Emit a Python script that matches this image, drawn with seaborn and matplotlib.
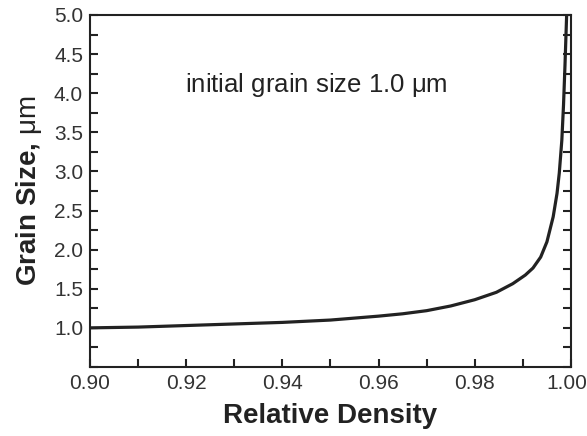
import numpy as np
import pandas as pd
import matplotlib
matplotlib.use("Agg")
import matplotlib.pyplot as plt
import matplotlib.transforms as mtransforms
import seaborn as sns
from matplotlib.ticker import MultipleLocator

# values
density = [0.900, 0.910, 0.920, 0.930, 0.940, 0.950, 0.960, 0.965, 0.970, 0.975,
           0.980, 0.9845, 0.9879, 0.9905, 0.9921, 0.9937, 0.9950, 0.9963,
           0.9971, 0.99757, 0.9981, 0.99845, 0.99875, 0.9991]
grain = [1.00, 1.01, 1.03, 1.05, 1.07, 1.10, 1.15, 1.18, 1.22, 1.28,
         1.36, 1.455, 1.565, 1.675, 1.765, 1.905, 2.10, 2.42,
         2.72, 2.98, 3.40, 3.85, 4.35, 5.00]

df = pd.DataFrame({"density": density, "grain": grain})

sns.set_theme(style="ticks")
plt.rcParams["font.family"] = ["Liberation Sans", "DejaVu Sans"]
plt.rcParams["mathtext.fontset"] = "custom"
plt.rcParams["mathtext.rm"] = "Liberation Sans"

ink = "#222222"
fig = plt.figure(figsize=(5.87, 4.36), dpi=100)
ax = fig.add_axes([0.1533, 0.1583, 0.8194, 0.8073])

sns.lineplot(data=df, x="density", y="grain", ax=ax, color=ink, linewidth=2.3)

ax.set_xlim(0.90, 1.00)
ax.set_ylim(0.5, 5.0)
ax.xaxis.set_major_locator(MultipleLocator(0.02))
ax.xaxis.set_minor_locator(MultipleLocator(0.01))
ax.set_xticklabels([f"{v:.2f}" for v in ax.get_xticks()])
ax.set_yticks([1.0, 1.5, 2.0, 2.5, 3.0, 3.5, 4.0, 4.5, 5.0])
ax.set_yticklabels([f"{v:.1f}" for v in ax.get_yticks()])
ax.yaxis.set_minor_locator(MultipleLocator(0.25))

ax.tick_params(which="both", direction="in", right=True, top=False,
               color=ink, width=1.5, labelsize=15, labelcolor="#333333")
ax.tick_params(which="major", length=6, pad=5)
ax.tick_params(which="minor", length=6)
for s in ax.spines.values():
    s.set_visible(True)
    s.set_linewidth(1.5)
    s.set_color(ink)

# nudge the last x label so it stays inside the canvas
last = [t for t in ax.get_xticklabels() if t.get_text() == "1.00"]
for t in last:
    t.set_transform(t.get_transform() + mtransforms.ScaledTranslation(-4 / 100, 0, fig.dpi_scale_trans))

ax.set_xlabel("Relative Density", fontsize=20, fontweight="bold", color=ink, labelpad=7)
ax.set_ylabel(r"Grain Size, $\mathrm{\mu m}$", fontsize=20, fontweight="bold", color=ink, labelpad=7)

ax.text(0.197, 0.80, r"initial grain size 1.0 $\mathrm{\mu m}$", transform=ax.transAxes,
        fontsize=18.5, color=ink, va="center")

fig.savefig("out.png", dpi=100)
